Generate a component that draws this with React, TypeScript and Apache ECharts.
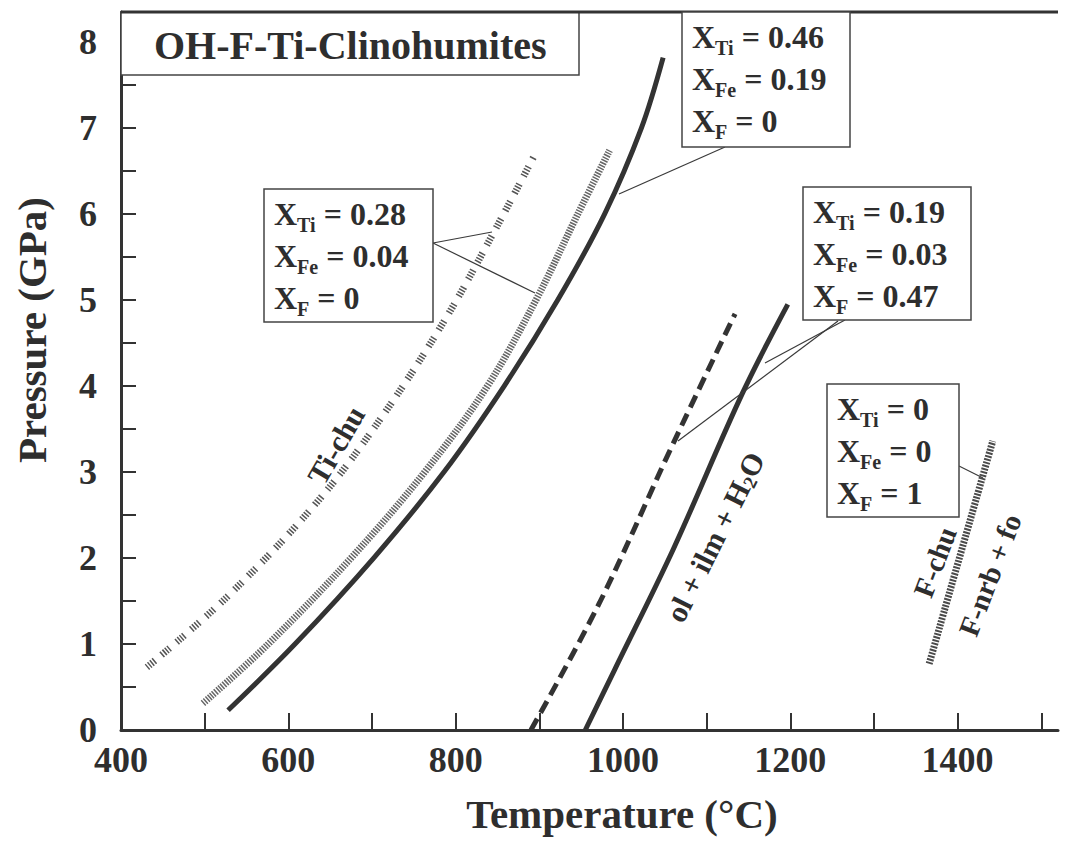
import React, { useEffect, useRef } from "react";
import * as echarts from "echarts";

// ---- axis ticks / labels ----
const xTickValues = [500, 600, 700, 800, 900, 1000, 1100, 1200, 1300, 1400, 1500];
const xLabelValues = [400, 600, 800, 1000, 1200, 1400];
const yTickValues = [0.5, 1, 1.5, 2, 2.5, 3, 3.5, 4, 4.5, 5, 5.5, 6, 6.5, 7, 7.5, 8];
const yLabelValues = [0, 1, 2, 3, 4, 5, 6, 7, 8];
const xTitle = "Temperature (°C)";
const yTitle = "Pressure (GPa)";

// ---- curves: [Temperature °C, Pressure GPa] ----
const tiChuSparse = [
  [431, 0.73], [527, 1.55], [636, 2.67], [716, 3.7], [789, 4.8], [849, 5.85], [893, 6.66],
];
const tiChuDense = [
  [498, 0.31], [576, 1.0], [675, 2.0], [763, 3.0], [838, 4.0], [896, 5.0], [946, 6.0], [984, 6.74],
];
const solidXTi046 = [
  [528, 0.23], [608, 1.0], [702, 2.0], [786, 3.0], [858, 4.0], [922, 5.0], [978, 6.0], [1022, 7.0], [1048, 7.82],
];
const dashedXTi019 = [[890, 0], [972, 1.48], [1058, 3.29], [1134, 4.84]];
const solidXTi019 = [[955, 0], [990, 0.7], [1060, 2.1], [1143, 3.92], [1197, 4.95]];
const fChuLine = [[1366, 0.77], [1442, 3.36]];

// ---- annotation texts ----
const title = "OH-F-Ti-Clinohumites";
const boxA = ["0.46", "0.19", "0"];
const boxB = ["0.28", "0.04", "0"];
const boxC = ["0.19", "0.03", "0.47"];
const boxD = ["0", "0", "1"];

const FONT = "'Liberation Serif', 'DejaVu Serif', serif";
const INK = "#2e2e2e";

const boxRich = {
  x: { fontSize: 32, fontWeight: "bold", fontFamily: FONT, fill: INK, lineHeight: 42 },
  s: { fontSize: 20, fontWeight: "bold", fontFamily: FONT, fill: INK, lineHeight: 20, padding: [22, 0, 0, 0] },
};

const boxText = (v: string[]) =>
  `{x|X}{s|Ti}{x| = ${v[0]}}\n{x|X}{s|Fe}{x| = ${v[1]}}\n{x|X}{s|F}{x| = ${v[2]}}`;

const makeBox = (left: number, top: number, w: number, h: number, v: string[]) => [
  {
    type: "rect",
    shape: { x: left, y: top, width: w, height: h },
    style: { fill: "#fff", stroke: "#444", lineWidth: 1.5 },
    z: 20,
  },
  {
    type: "text",
    x: left + 10,
    y: top + 4,
    z: 21,
    style: { text: boxText(v), rich: boxRich, align: "left", verticalAlign: "top", fill: INK },
  },
];

const leader = (x1: number, y1: number, x2: number, y2: number) => ({
  type: "line",
  shape: { x1, y1, x2, y2 },
  style: { stroke: "#3a3a3a", lineWidth: 1.2 },
  z: 15,
});

const rotText = (text: string, x: number, y: number, deg: number, size: number, rich?: any) => ({
  type: "text",
  x,
  y,
  rotation: (deg * Math.PI) / 180,
  z: 18,
  style: {
    text,
    fontSize: size,
    fontWeight: "bold",
    fontFamily: FONT,
    fill: INK,
    align: "center",
    verticalAlign: "middle",
    rich,
  },
});

const App: React.FC = () => {
  const ref = useRef<HTMLDivElement>(null);
  useEffect(() => {
    if (!ref.current) return;
    const chart = echarts.init(ref.current, undefined, { renderer: "svg" });
    const axisFont = { fontSize: 36, fontWeight: "bold" as const, fontFamily: FONT, color: INK };
    const lineSeries = (data: number[][], style: any, z = 5) => ({
      type: "line",
      data,
      showSymbol: false,
      smooth: 0.35,
      lineStyle: style,
      z,
      silent: true,
    });

    chart.setOption({
      animation: false,
      backgroundColor: "#fff",
      grid: { left: 121, top: 12, width: 937, height: 718 },
      xAxis: {
        type: "value",
        min: 400,
        max: 1520,
        axisLine: { show: true, lineStyle: { color: "#333", width: 3 } },
        axisTick: { show: true, inside: true, length: 17, customValues: xTickValues, lineStyle: { color: "#333", width: 2 } },
        axisLabel: { ...axisFont, margin: 12, customValues: xLabelValues, formatter: (v: number) => String(v) },
        splitLine: { show: false },
      },
      yAxis: {
        type: "value",
        min: 0,
        max: 8.35,
        axisLine: { show: true, lineStyle: { color: "#333", width: 3 } },
        axisTick: { show: true, inside: true, length: 15, customValues: yTickValues, lineStyle: { color: "#333", width: 2 } },
        axisLabel: { ...axisFont, margin: 24, customValues: yLabelValues, formatter: (v: number) => String(v) },
        splitLine: { show: false },
      },
      series: [
        lineSeries(tiChuSparse, { color: "#555", width: 7, type: [1.5, 1.5, 1.5, 1.5, 1.5, 1.5, 1.5, 9] }),
        lineSeries(tiChuDense, { color: "#666", width: 7, type: [1.5, 1.3] }),
        lineSeries(solidXTi046, { color: "#333", width: 5, type: "solid" }),
        lineSeries(dashedXTi019, { color: "#333", width: 5, type: [13, 7] }),
        lineSeries(solidXTi019, { color: "#333", width: 5, type: "solid" }),
        lineSeries(fChuLine, { color: "#4a4a4a", width: 7, type: [2, 1.3] }),
      ],
      graphic: [
        // axis titles
        {
          type: "text",
          x: 622,
          y: 814,
          style: { text: xTitle, fontSize: 41, fontWeight: "bold", fontFamily: FONT, fill: INK, align: "center", verticalAlign: "middle" },
        },
        {
          type: "text",
          x: 32,
          y: 330,
          rotation: Math.PI / 2,
          style: { text: yTitle, fontSize: 41, fontWeight: "bold", fontFamily: FONT, fill: INK, align: "center", verticalAlign: "middle" },
        },
        // top frame line
        { type: "line", shape: { x1: 121, y1: 12, x2: 1058, y2: 12 }, style: { stroke: "#333", lineWidth: 3 }, z: 10 },
        // title box
        {
          type: "rect",
          shape: { x: 121, y: 12, width: 458, height: 63 },
          style: { fill: "#fff", stroke: "#444", lineWidth: 1.5 },
          z: 9,
        },
        {
          type: "text",
          x: 154,
          y: 45,
          z: 11,
          style: { text: title, fontSize: 40, fontWeight: "bold", fontFamily: FONT, fill: INK, align: "left", verticalAlign: "middle" },
        },
        // leaders
        leader(725, 147, 619, 194),
        leader(433, 243, 492, 232),
        leader(433, 243, 535, 293),
        leader(838, 321, 678, 441),
        leader(845, 320, 765, 363),
        leader(959, 466, 983, 478),
        // boxes
        ...makeBox(682, 12, 168, 135, boxA),
        ...makeBox(264, 189, 169, 133, boxB),
        ...makeBox(803, 187, 168, 133, boxC),
        ...makeBox(827, 384, 132, 133, boxD),
        // curve labels
        rotText("Ti-chu", 336, 445, 60, 30),
        rotText("{m|ol + ilm + H}{s|2}{m|O}", 715, 537, 63.5, 30, {
          m: { fontSize: 30, fontWeight: "bold", fontFamily: FONT, fill: INK, lineHeight: 34 },
          s: { fontSize: 19, fontWeight: "bold", fontFamily: FONT, fill: INK, lineHeight: 19, padding: [14, 0, 0, 0] },
        }),
        rotText("F-chu", 935, 562, 69, 29),
        rotText("F-nrb + fo", 990, 575, 69, 29),
      ],
    });
    return () => chart.dispose();
  }, []);
  return (
    <div
      ref={ref}
      style={{ position: "absolute", left: 0, top: 0, width: 1076, height: 845, background: "#fff" }}
    />
  );
};

export default App;
